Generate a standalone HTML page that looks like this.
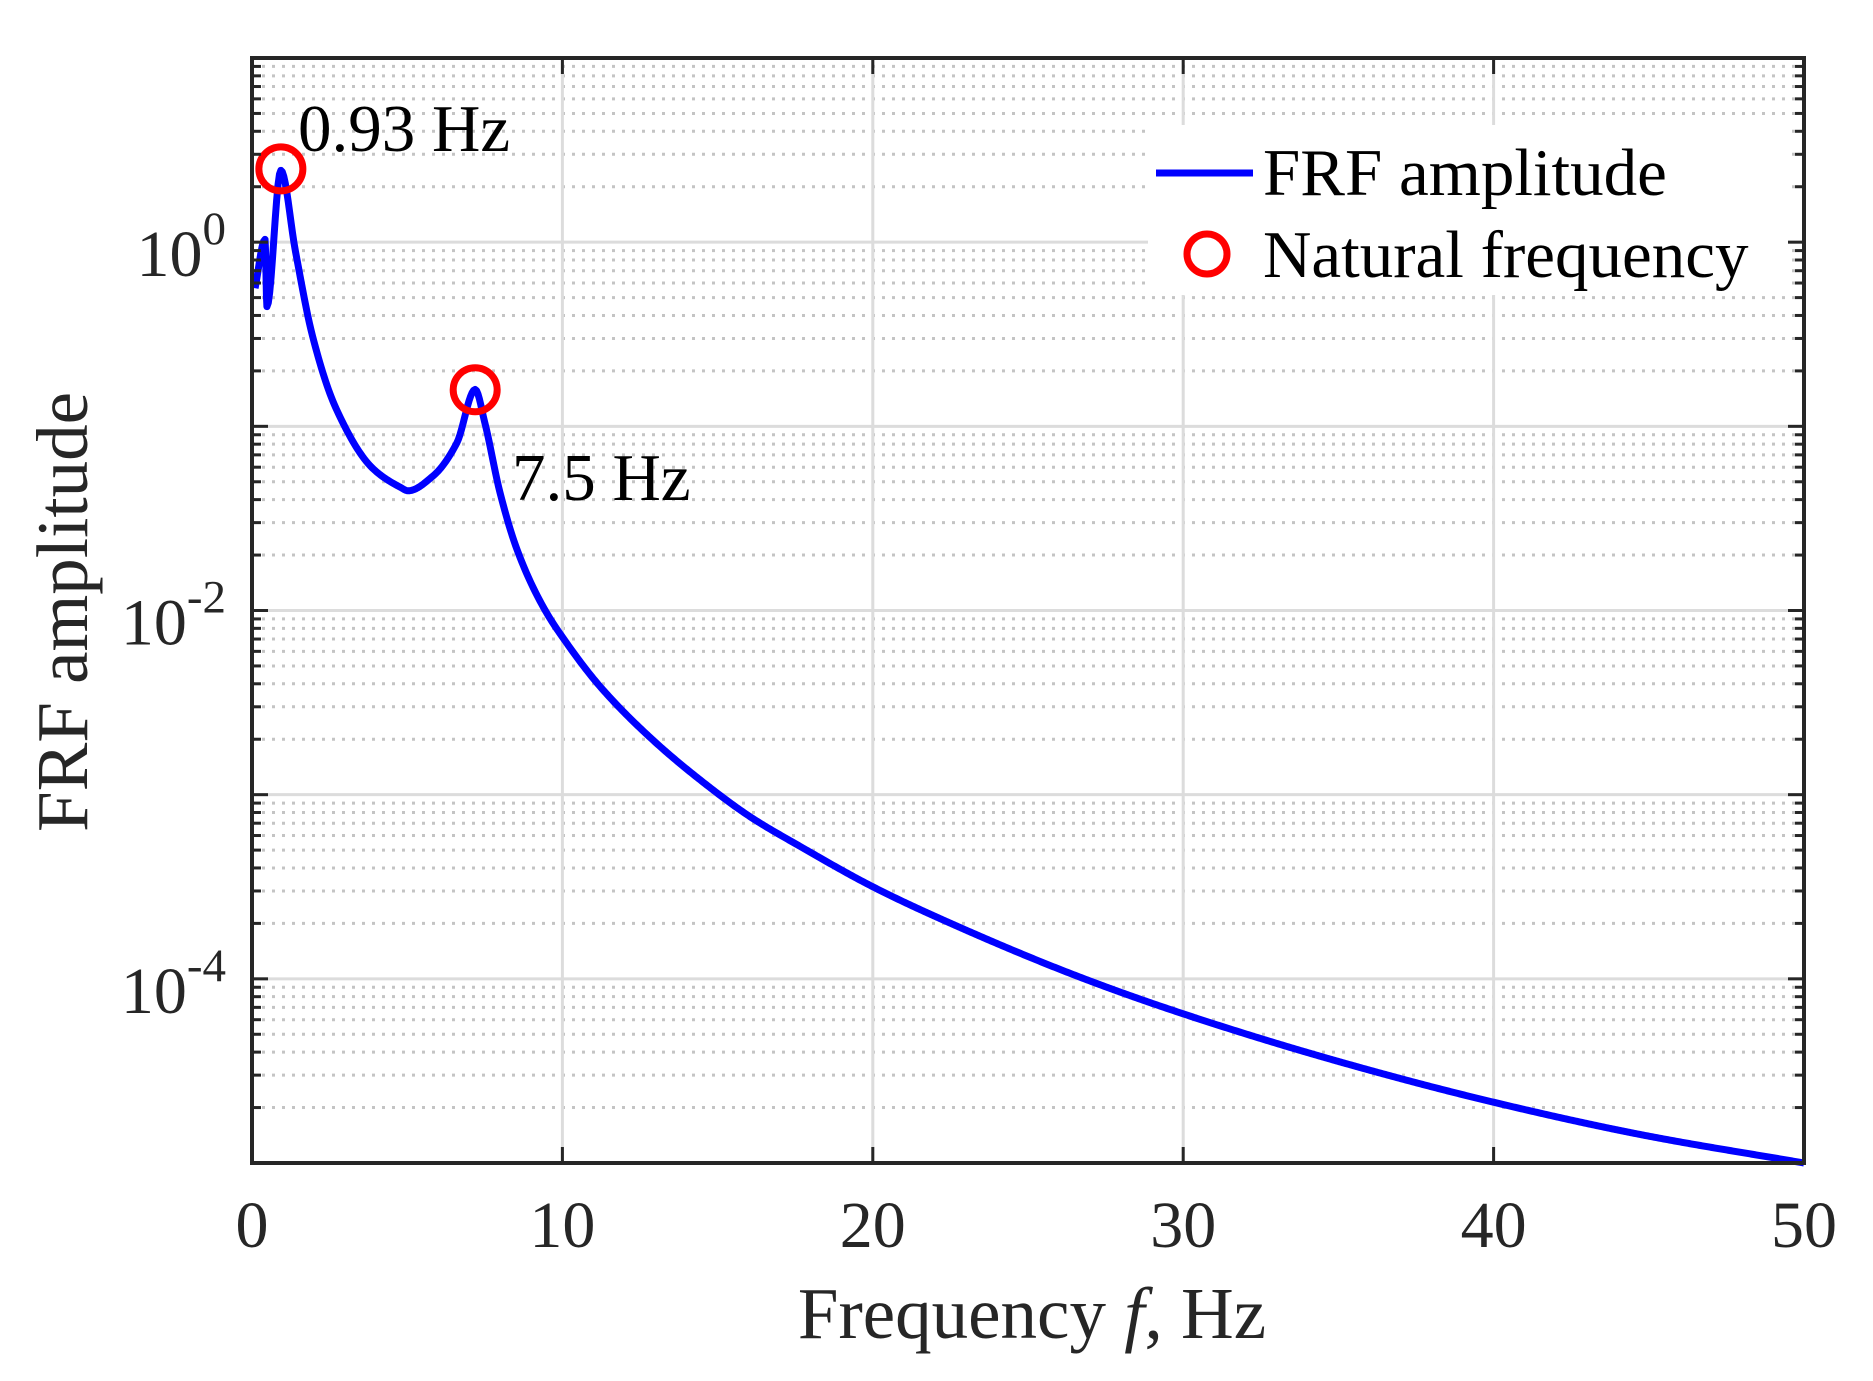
<!DOCTYPE html>
<html><head><meta charset="utf-8"><style>
html,body{margin:0;padding:0;background:#fff;}
svg{display:block;font-family:"Liberation Serif",serif;}
</style></head><body>
<svg id="chart" width="1873" height="1381" viewBox="0 0 1873 1381" xmlns="http://www.w3.org/2000/svg">
<rect width="1873" height="1381" fill="#fff"/>
<g id="grid"></g>
<g id="series"></g>
<g id="axes"></g>
<text transform="translate(87,612) rotate(-90)" text-anchor="middle" font-size="73" fill="#262626">FRF amplitude</text>
<text x="1032" y="1338" text-anchor="middle" font-size="73" fill="#262626">Frequency <tspan font-style="italic">f</tspan>, Hz</text>
<text x="298" y="151" font-size="67" fill="#000">0.93 Hz</text>
<text x="512" y="500" font-size="67" fill="#000">7.5 Hz</text>
<g>
<rect x="1148" y="125" width="640" height="170" fill="#fff"/>
<line x1="1156" y1="173" x2="1253" y2="173" stroke="#0000ff" stroke-width="7"/>
<text x="1263" y="195" font-size="67" fill="#000">FRF amplitude</text>
<circle cx="1207" cy="254" r="20" fill="none" stroke="#ff0000" stroke-width="7"/>
<text x="1263" y="277" font-size="67" fill="#000">Natural frequency</text>
</g>
</svg>
<script>
const freqs = [0.1,0.42,0.48,0.93,1.4,1.95,2.7,3.9,4.77,5.03,5.83,6.6,7.19,7.5,7.99,8.54,9.38,10.15,11.2,12.83,14.44,16.05,17.65,20.0,22.26,26.66,30.0,35.03,40.0,44.87,50.0];
const logAmps = [-0.25,0.015,-0.35,0.39,-0.05,-0.51,-0.9,-1.23,-1.33,-1.35,-1.27,-1.09,-0.80,-0.98,-1.36,-1.67,-1.98,-2.18,-2.41,-2.69,-2.92,-3.12,-3.28,-3.50,-3.68,-3.99,-4.19,-4.45,-4.67,-4.85,-5.0];
const amps = logAmps.map(v=>Math.pow(10,v));
const peakFreqs = [0.93,7.19];
const peakAmps = [2.5,0.158];
const xTicks = [0,10,20,30,40,50];
const yDecades = [-5,-4,-3,-2,-1,0,1];
const yLabelExps = [-4,-2,0];

const L=252,R=1804,T=58,B=1163;
const xMin=0,xMax=50,yMinE=-5,yMaxE=1;
const NS="http://www.w3.org/2000/svg";
function sx(f){return L+(f-xMin)/(xMax-xMin)*(R-L);}
function sy(a){return B-(Math.log10(a)-yMinE)/(yMaxE-yMinE)*(B-T);}
function mk(tag,attrs,parent){const e=document.createElementNS(NS,tag);for(const k in attrs)e.setAttribute(k,attrs[k]);parent.appendChild(e);return e;}
const grid=document.getElementById('grid'),axes=document.getElementById('axes'),series=document.getElementById('series');

for(const d of yDecades){
  for(let m=2;m<=9;m++){
    const v=m*Math.pow(10,d); if(Math.log10(v)>yMaxE) continue;
    const y=sy(v);
    const g=mk('line',{x1:L,x2:R,y1:y,y2:y,stroke:'#c4c4c4','stroke-width':3,'stroke-dasharray':'3 7'},grid);
    
    
    const t1=mk('line',{x1:L,x2:L+9,y1:y,y2:y,stroke:'#262626','stroke-width':3},axes);
    
    
    const t2=mk('line',{x1:R-9,x2:R,y1:y,y2:y,stroke:'#262626','stroke-width':3},axes);
    
    
  }
  const y=sy(Math.pow(10,d));
  if(d>yMinE && d<yMaxE){
    const g=mk('line',{x1:L,x2:R,y1:y,y2:y,stroke:'#dcdcdc','stroke-width':3},grid);
    
    
  }
  const t1=mk('line',{x1:L,x2:L+16,y1:y,y2:y,stroke:'#262626','stroke-width':3},axes);
  
  
  const t2=mk('line',{x1:R-16,x2:R,y1:y,y2:y,stroke:'#262626','stroke-width':3},axes);
  
  
}
for(const e of yLabelExps){
  const y=sy(Math.pow(10,e));
  const t=mk('text',{x:226,y:y+34,'text-anchor':'end','font-size':66,fill:'#262626'},axes);
  
  
  t.textContent='10';
  const s=mk('tspan',{'font-size':47,dy:-32},t);
  s.textContent=String(e);
}
for(const f of xTicks){
  const x=sx(f);
  if(f>xMin&&f<xMax){
    const g=mk('line',{x1:x,x2:x,y1:T,y2:B,stroke:'#dcdcdc','stroke-width':3},grid);
    
    
  }
  const t1=mk('line',{x1:x,x2:x,y1:B-16,y2:B,stroke:'#262626','stroke-width':3},axes);
  
  
  const t2=mk('line',{x1:x,x2:x,y1:T,y2:T+16,stroke:'#262626','stroke-width':3},axes);
  
  
  const t=mk('text',{x:x,y:1247,'text-anchor':'middle','font-size':66,fill:'#262626'},axes);
  
  
  t.textContent=f;
}
const box=mk('rect',{x:L,y:T,width:R-L,height:B-T,fill:'none',stroke:'#262626','stroke-width':4},axes);



// monotone cubic (Fritsch-Carlson) in (f, log amplitude) space
const xs=freqs, ys=amps.map(a=>Math.log10(a)), n=xs.length;
const dk=[],m=[];
for(let i=0;i<n-1;i++) dk.push((ys[i+1]-ys[i])/(xs[i+1]-xs[i]));
m[0]=dk[0]; m[n-1]=dk[n-2];
for(let i=1;i<n-1;i++){
  if(dk[i-1]*dk[i]<=0) m[i]=0;
  else { const w1=2*(xs[i+1]-xs[i])+(xs[i]-xs[i-1]), w2=(xs[i+1]-xs[i])+2*(xs[i]-xs[i-1]); m[i]=(w1+w2)/(w1/dk[i-1]+w2/dk[i]); }
}
let d='';
for(let i=0;i<n-1;i++){
  const h=xs[i+1]-xs[i];
  const steps=Math.max(4,Math.ceil(h*20));
  for(let s=0;s<=steps;s++){
    if(i>0&&s===0) continue;
    const t=s/steps, t2=t*t, t3=t2*t;
    const y=(2*t3-3*t2+1)*ys[i]+(t3-2*t2+t)*h*m[i]+(-2*t3+3*t2)*ys[i+1]+(t3-t2)*h*m[i+1];
    const px=sx(xs[i]+t*h), py=sy(Math.pow(10,y));
    d+=(d?' L':'M')+px.toFixed(2)+','+py.toFixed(2);
  }
}
const path=mk('path',{d:d,fill:'none',stroke:'#0000ff','stroke-width':7,'stroke-linejoin':'round'},series);


peakFreqs.forEach((f,i)=>{
  const c=mk('circle',{cx:sx(f),cy:sy(peakAmps[i]),r:22,fill:'none',stroke:'#ff0000','stroke-width':7},series);
  
  
});
</script>
</body></html>
